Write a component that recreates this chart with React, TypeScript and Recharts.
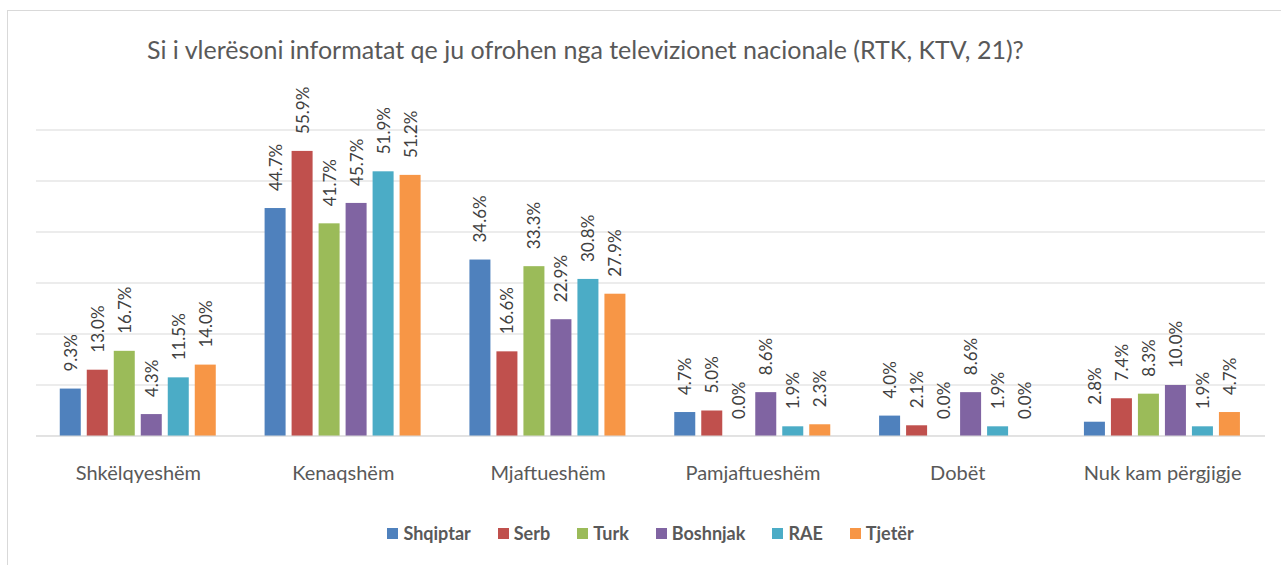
import React from 'react';
import { BarChart, Bar, XAxis, YAxis, CartesianGrid } from 'recharts';

const categories = ['Shkëlqyeshëm', 'Kenaqshëm', 'Mjaftueshëm', 'Pamjaftueshëm', 'Dobët', 'Nuk kam përgjigje'];

const shqiptar = [9.3, 44.7, 34.6, 4.7, 4.0, 2.8];
const serb = [13.0, 55.9, 16.6, 5.0, 2.1, 7.4];
const turk = [16.7, 41.7, 33.3, 0.0, 0.0, 8.3];
const boshnjak = [4.3, 45.7, 22.9, 8.6, 8.6, 10.0];
const rae = [11.5, 51.9, 30.8, 1.9, 1.9, 1.9];
const tjeter = [14.0, 51.2, 27.9, 2.3, 0.0, 4.7];

const yTicks = [0, 10, 20, 30, 40, 50, 60];

const series = [
  { key: 'Shqiptar', values: shqiptar, color: '#4F81BD' },
  { key: 'Serb', values: serb, color: '#C0504D' },
  { key: 'Turk', values: turk, color: '#9BBB59' },
  { key: 'Boshnjak', values: boshnjak, color: '#8064A2' },
  { key: 'RAE', values: rae, color: '#4BACC6' },
  { key: 'Tjetër', values: tjeter, color: '#F79646' },
];

const chartData = categories.map((name, i) => {
  const row: Record<string, string | number> = { name };
  series.forEach((s) => {
    row[s.key] = s.values[i];
  });
  return row;
});

const FONT = 'Lato, "Liberation Sans", sans-serif';

// bar + rotated value label drawn together so 0.0% bars still get their label
const makeBarShape = (key: string, color: string) => {
  // eslint-disable-next-line @typescript-eslint/no-explicit-any
  return (props: any) => {
    const { x, y, width, height, payload } = props;
    const value = Number(payload?.[key] ?? 0);
    const cx = Number(x) + Number(width) / 2;
    const cy = Number(y) + Math.min(0, Number(height)) - 17;
    return (
      <g>
        {Math.abs(Number(height)) > 0 && (
          <rect x={x} y={y} width={width} height={height} fill={color} />
        )}
        <text
          x={cx}
          y={cy}
          transform={`rotate(-90, ${cx}, ${cy})`}
          textAnchor="start"
          dominantBaseline="central"
          fontSize={17}
          fontFamily={FONT}
          fill="#404040"
        >
          {`${value.toFixed(1)}%`}
        </text>
      </g>
    );
  };
};

export default function App() {
  return (
    <div style={{ position: 'absolute', left: 0, top: 0, width: 1281, height: 565, background: '#fff' }}>
      <div
        style={{
          position: 'absolute',
          left: 7,
          top: 10,
          right: 0,
          bottom: 0,
          borderTop: '1px solid #d9d9d9',
          borderLeft: '1px solid #d9d9d9',
        }}
      />
      <div
        style={{
          position: 'absolute',
          left: 147,
          top: 34,
          fontFamily: FONT,
          fontSize: 25,
          color: '#595959',
          whiteSpace: 'nowrap',
        }}
      >
        Si i vlerësoni informatat qe ju ofrohen nga televizionet nacionale (RTK, KTV, 21)?
      </div>
      <div style={{ position: 'absolute', left: 0, top: 0 }}>
        <BarChart
          width={1281}
          height={565}
          data={chartData}
          margin={{ top: 130, right: 16, bottom: 69, left: 36 }}
          barCategoryGap="11.6%"
          barGap={6}
        >
          <CartesianGrid vertical={false} stroke="#d9d9d9" />
          <YAxis hide domain={[0, 60]} ticks={yTicks} />
          <XAxis
            dataKey="name"
            tickLine={false}
            axisLine={{ stroke: '#d9d9d9' }}
            tickMargin={24}
            height={60}
            interval={0}
            tick={{ fontSize: 20, fontFamily: FONT, fill: '#595959' }}
          />
          {series.map((s) => (
            <Bar
              key={s.key}
              dataKey={s.key}
              fill={s.color}
              isAnimationActive={false}
              shape={makeBarShape(s.key, s.color)}
            />
          ))}
        </BarChart>
      </div>
      <div
        style={{
          position: 'absolute',
          left: 36,
          width: 1229,
          top: 522,
          display: 'flex',
          justifyContent: 'center',
          gap: 27,
          fontFamily: FONT,
        }}
      >
        {series.map((s) => (
          <div key={s.key} style={{ display: 'flex', alignItems: 'center' }}>
            <span style={{ width: 11, height: 11, background: s.color, marginRight: 5, display: 'inline-block' }} />
            <span style={{ fontSize: 18, fontWeight: 700, color: '#595959' }}>{s.key}</span>
          </div>
        ))}
      </div>
    </div>
  );
}
